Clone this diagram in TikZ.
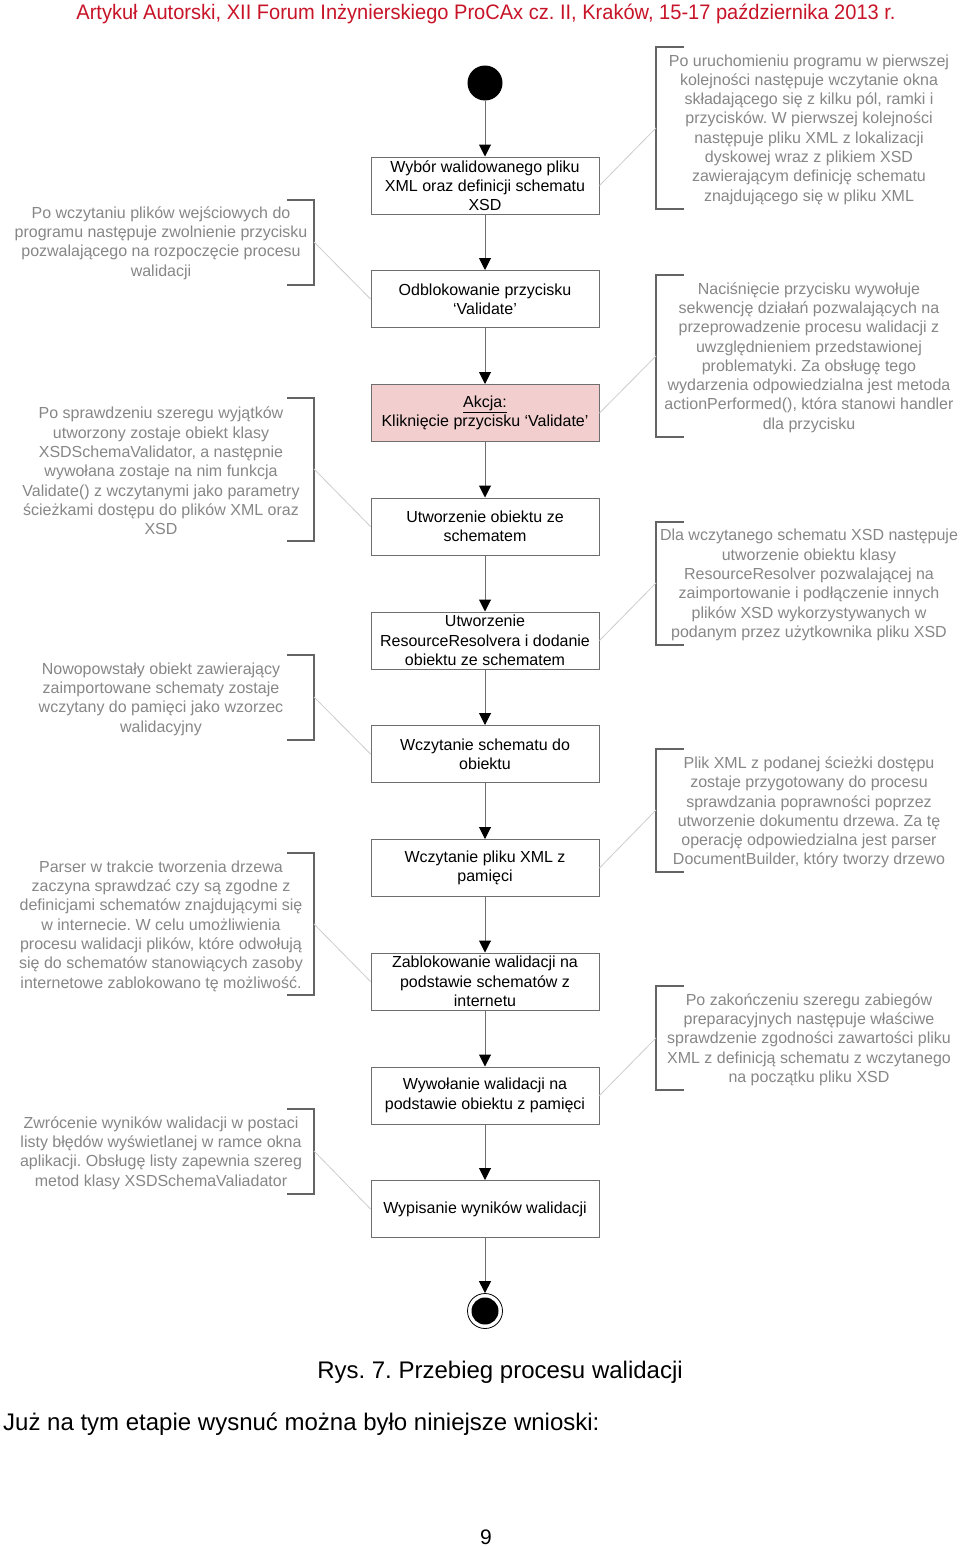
\documentclass[tikz,border=0pt]{standalone}
\usepackage{fontspec}
\setmainfont{Liberation Sans}
\usetikzlibrary{arrows.meta}
\definecolor{hdrred}{RGB}{200,20,40}
\definecolor{notegray}{RGB}{135,135,135}
\definecolor{boxgray}{RGB}{110,110,110}
\definecolor{brkgray}{RGB}{100,100,100}
\definecolor{linkgray}{RGB}{205,205,205}
\definecolor{actpink}{RGB}{242,206,206}
\frenchspacing
\begin{document}
\begin{tikzpicture}[x=1pt,y=-1pt,
  box/.style={draw=boxgray, line width=1pt, minimum width=228pt, minimum height=57pt, inner sep=0pt, align=center, font=\fontsize{16}{19.3}\selectfont, fill=white},
  note/.style={text=notegray, align=center, inner sep=0pt, font=\fontsize{16}{19.3}\selectfont},
  flow/.style={draw=boxgray, line width=1pt, -{Triangle[width=12pt,length=12pt,color=black]}},
  link/.style={draw=linkgray, line width=0.8pt},
  brk/.style={draw=brkgray, line width=1.2pt},
]
\useasboundingbox (0,0) rectangle (960,1547);
\fill[white] (0,0) rectangle (960,1547);

% header
\node[text=hdrred, inner sep=0pt, font=\fontsize{21}{24}\selectfont] (hdr) at (486,14) {\scalebox{0.955}[1]{Artykuł Autorski, XII Forum Inżynierskiego ProCAx cz. II, Kraków, 15-17 października 2013 r.}};

% start / end
\node[circle, fill=black, minimum size=35pt, inner sep=0pt] (start) at (485,83) {};
\node[circle, draw=black, line width=0.8pt, minimum size=35pt, inner sep=0pt] (end) at (485,1311) {};
\node[circle, fill=black, minimum size=27pt, inner sep=0pt] (endin) at (485,1311) {};

% activity boxes
\node[box] (b1) at (485,185.5) {Wybór walidowanego pliku\\XML oraz definicji schematu\\XSD};
\node[box] (b2) at (485,299) {Odblokowanie przycisku\\‘Validate’};
\node[box, fill=actpink] (b3) at (485,413) {\underline{Akcja:}\\Kliknięcie przycisku ‘Validate’};
\node[box] (b4) at (485,526.5) {Utworzenie obiektu ze\\schematem};
\node[box] (b5) at (485,640.5) {Utworzenie\\ResourceResolvera i dodanie\\obiektu ze schematem};
\node[box] (b6) at (485,754) {Wczytanie schematu do\\obiektu};
\node[box] (b7) at (485,868) {Wczytanie pliku XML z\\pamięci};
\node[box] (b8) at (485,981.5) {Zablokowanie walidacji na\\podstawie schematów z\\internetu};
\node[box] (b9) at (485,1095.5) {Wywołanie walidacji na\\podstawie obiektu z pamięci};
\node[box] (b10) at (485,1209) {Wypisanie wyników walidacji};

% flow arrows
\draw[flow] (start) -- (b1);
\draw[flow] (b1) -- (b2);
\draw[flow] (b2) -- (b3);
\draw[flow] (b3) -- (b4);
\draw[flow] (b4) -- (b5);
\draw[flow] (b5) -- (b6);
\draw[flow] (b6) -- (b7);
\draw[flow] (b7) -- (b8);
\draw[flow] (b8) -- (b9);
\draw[flow] (b9) -- (b10);
\draw[flow] (b10) -- (end);

% left notes
\node[note] (nL1) at (161,243) {Po wczytaniu plików wejściowych do\\programu następuje zwolnienie przycisku\\pozwalającego na rozpoczęcie procesu\\walidacji};
\node[note] (nL2) at (161,471) {Po sprawdzeniu szeregu wyjątków\\utworzony zostaje obiekt klasy\\XSDSchemaValidator, a następnie\\wywołana zostaje na nim funkcja\\Validate() z wczytanymi jako parametry\\ścieżkami dostępu do plików XML oraz\\XSD};
\node[note] (nL3) at (161,699) {Nowopowstały obiekt zawierający\\zaimportowane schematy zostaje\\wczytany do pamięci jako wzorzec\\walidacyjny};
\node[note] (nL4) at (161,926) {Parser w trakcie tworzenia drzewa\\zaczyna sprawdzać czy są zgodne z\\definicjami schematów znajdującymi się\\w internecie. W celu umożliwienia\\procesu walidacji plików, które odwołują\\się do schematów stanowiących zasoby\\internetowe zablokowano tę możliwość.};
\node[note] (nL5) at (161,1153) {Zwrócenie wyników walidacji w postaci\\listy błędów wyświetlanej w ramce okna\\aplikacji. Obsługę listy zapewnia szereg\\metod klasy XSDSchemaValiadator};

% right notes
\node[note] (nR1) at (809,129.5) {Po uruchomieniu programu w pierwszej\\kolejności następuje wczytanie okna\\składającego się z kilku pól, ramki i\\przycisków. W pierwszej kolejności\\następuje pliku XML z lokalizacji\\dyskowej wraz z plikiem XSD\\zawierającym definicję schematu\\znajdującego się w pliku XML};
\node[note] (nR2) at (809,357.5) {Naciśnięcie przycisku wywołuje\\sekwencję działań pozwalających na\\przeprowadzenie procesu walidacji z\\uwzględnieniem przedstawionej\\problematyki. Za obsługę tego\\wydarzenia odpowiedzialna jest metoda\\actionPerformed(), która stanowi handler\\dla przycisku};
\node[note] (nR3) at (809,585) {Dla wczytanego schematu XSD następuje\\utworzenie obiektu klasy\\ResourceResolver pozwalającej na\\zaimportowanie i podłączenie innych\\plików XSD wykorzystywanych w\\podanym przez użytkownika pliku XSD};
\node[note] (nR4) at (809,812.5) {Plik XML z podanej ścieżki dostępu\\zostaje przygotowany do procesu\\sprawdzania poprawności poprzez\\utworzenie dokumentu drzewa. Za tę\\operację odpowiedzialna jest parser\\DocumentBuilder, który tworzy drzewo};
\node[note] (nR5) at (809,1039.5) {Po zakończeniu szeregu zabiegów\\preparacyjnych następuje właściwe\\sprawdzenie zgodności zawartości pliku\\XML z definicją schematu z wczytanego\\na początku pliku XSD};

% brackets (left)
\draw[brk] (287,200) -- (314,200) -- (314,285) -- (287,285);
\draw[brk] (287,398) -- (314,398) -- (314,541) -- (287,541);
\draw[brk] (287,655) -- (314,655) -- (314,740) -- (287,740);
\draw[brk] (287,853) -- (314,853) -- (314,995) -- (287,995);
\draw[brk] (287,1109) -- (314,1109) -- (314,1194) -- (287,1194);
% brackets (right)
\draw[brk] (684,47) -- (656,47) -- (656,209) -- (684,209);
\draw[brk] (684,275) -- (656,275) -- (656,437) -- (684,437);
\draw[brk] (684,522) -- (656,522) -- (656,645) -- (684,645);
\draw[brk] (684,749) -- (656,749) -- (656,872) -- (684,872);
\draw[brk] (684,986) -- (656,986) -- (656,1090) -- (684,1090);

% bracket anchor points
\coordinate (kL1) at (314,242);
\coordinate (kL2) at (314,469);
\coordinate (kL3) at (314,697);
\coordinate (kL4) at (314,924);
\coordinate (kL5) at (314,1151);
\coordinate (kR1) at (656,128);
\coordinate (kR2) at (656,356);
\coordinate (kR3) at (656,583);
\coordinate (kR4) at (656,810);
\coordinate (kR5) at (656,1038);

% note links
\draw[link] (b1.east) -- (kR1);
\draw[link] (kL1) -- (b2.west);
\draw[link] (b3.east) -- (kR2);
\draw[link] (kL2) -- (b4.west);
\draw[link] (b5.east) -- (kR3);
\draw[link] (kL3) -- (b6.west);
\draw[link] (b7.east) -- (kR4);
\draw[link] (kL4) -- (b8.west);
\draw[link] (b9.east) -- (kR5);
\draw[link] (kL5) -- (b10.west);

% caption and body text
\node[inner sep=0pt, font=\fontsize{24}{28}\selectfont] (cap) at (500,1372) {Rys. 7. Przebieg procesu walidacji};
\node[inner sep=0pt, anchor=west, font=\fontsize{24}{28}\selectfont] (body) at (3,1424) {Już na tym etapie wysnuć można było niniejsze wnioski:};
\node[inner sep=0pt, font=\fontsize{21}{24}\selectfont] (pg) at (486,1537) {9};
\end{tikzpicture}
\end{document}
